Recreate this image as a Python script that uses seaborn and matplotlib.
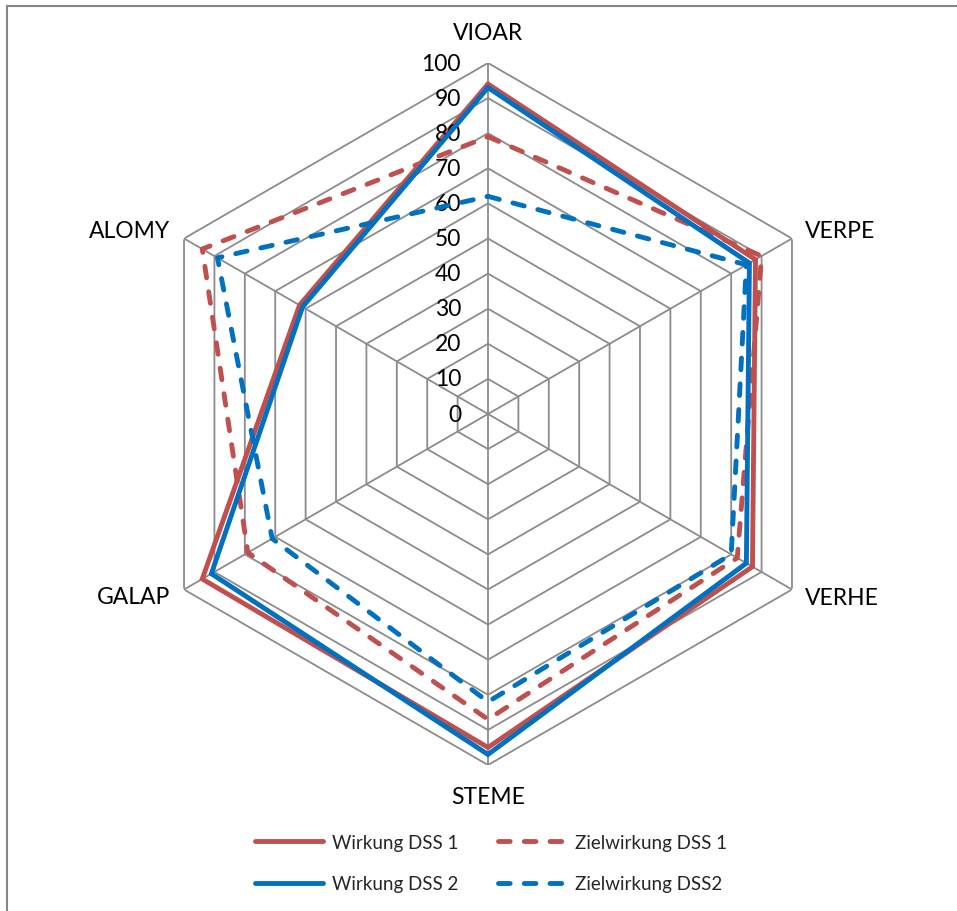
import numpy as np
import pandas as pd
import matplotlib
matplotlib.use("Agg")
import matplotlib.pyplot as plt
from matplotlib.patches import Rectangle
import seaborn as sns

# Weed species (axes of the radar) and the scores per series
categories = ["VIOAR", "VERPE", "VERHE", "STEME", "GALAP", "ALOMY"]
wirkung_dss1 = [94, 88, 87, 95, 94, 62]
wirkung_dss2 = [93, 86, 85, 97, 91, 61]
ziel_dss1 = [79, 90, 82, 87, 79, 94]
ziel_dss2 = [62, 85, 80, 82, 71, 89]
radial_ticks = list(range(0, 101, 10))

RED = "#C0504D"
BLUE = "#0070C0"
GRID = "#8C8C8C"

sns.set_theme(style="white")
plt.rcParams["font.family"] = ["Lato", "DejaVu Sans"]

fig = plt.figure(figsize=(9.57, 9.12), dpi=100)
fig.patch.set_facecolor("white")

# chart border (left/top edges visible)
fig.add_artist(Rectangle((7 / 957, -0.05), 1.2, 1 - 7 / 912 + 0.05,
                         transform=fig.transFigure, fill=False,
                         edgecolor="#868686", linewidth=1.5))

ax = fig.add_axes([137 / 957, 146 / 912, 702 / 957, 702 / 912], projection="polar")
ax.set_theta_offset(np.pi / 2)
ax.set_theta_direction(-1)
ax.set_ylim(0, 100)
ax.grid(False)
ax.set_xticks([])
ax.set_yticks([])
ax.spines["polar"].set_visible(False)
ax.set_facecolor("none")

n = len(categories)
theta = np.arange(n) * 2 * np.pi / n
theta_closed = np.append(theta, theta[0])

# hexagonal grid and spokes
for r in radial_ticks[1:]:
    ax.plot(theta_closed, [r] * (n + 1), color=GRID, linewidth=1.3, zorder=1)
for t in theta:
    ax.plot([t, t], [0, 100], color=GRID, linewidth=1.3, zorder=1)

dash = (0, (2.4, 2.9))
series = [
    ("Wirkung DSS 1", wirkung_dss1, RED, "-"),
    ("Zielwirkung DSS 1", ziel_dss1, RED, dash),
    ("Wirkung DSS 2", wirkung_dss2, BLUE, "-"),
    ("Zielwirkung DSS2", ziel_dss2, BLUE, dash),
]
handles = {}
for z, (name, vals, color, ls) in enumerate(series):
    df = pd.DataFrame({"theta": theta_closed, "value": np.append(vals, vals[0])})
    sns.lineplot(data=df, x="theta", y="value", sort=False, estimator=None,
                 ax=ax, color=color, linewidth=3.5, linestyle=ls,
                 dash_capstyle="round", solid_joinstyle="miter",
                 label=name, zorder=3 + z, legend=False)
    handles[name] = ax.get_lines()[-1]

ax.set_xlabel("")
ax.set_ylabel("")

# radial value labels
for r in radial_ticks:
    ax.annotate(str(r), xy=(0, r), xytext=(-27, 0), textcoords="offset pixels",
                ha="right", va="center", fontsize=16.5, color="black",
                annotation_clip=False)

# category labels
offsets = {
    "VIOAR": ((0, 31), "center"),
    "VERPE": ((13, 8), "left"),
    "VERHE": ((13, -8), "left"),
    "STEME": ((0, -32), "center"),
    "GALAP": ((-14, -7), "right"),
    "ALOMY": ((-14, 8), "right"),
}
for t, name in zip(theta, categories):
    off, ha = offsets[name]
    ax.annotate(name, xy=(t, 100), xytext=off, textcoords="offset pixels",
                ha=ha, va="center", fontsize=16.5, color="black",
                annotation_clip=False)

order = ["Wirkung DSS 1", "Wirkung DSS 2", "Zielwirkung DSS 1", "Zielwirkung DSS2"]
fig.legend([handles[k] for k in order], order, loc="center",
           bbox_to_anchor=(491 / 957, 1 - 864 / 912), ncol=2, frameon=False,
           fontsize=13.5, handlelength=3.6, handletextpad=0.5,
           columnspacing=2.1, labelspacing=1.3)

fig.savefig("out.png", dpi=100, facecolor="white")
